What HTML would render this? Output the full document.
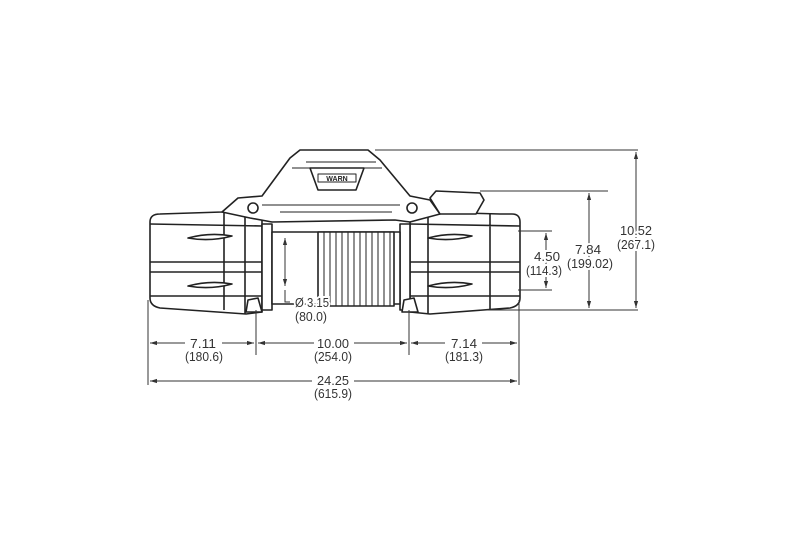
<!DOCTYPE html>
<html><head><style>body{margin:0;background:#fff}svg{display:block}text{font-family:"Liberation Sans Narrow","Liberation Sans",sans-serif;font-size:13px;fill:#333;text-anchor:middle;stroke:#fff;stroke-width:4px;paint-order:stroke;}</style></head><body>
<svg width="800" height="540" viewBox="0 0 800 540" xmlns="http://www.w3.org/2000/svg">
<defs><marker id="a" viewBox="0 0 10 10" refX="10" refY="5" markerWidth="7" markerHeight="7" orient="auto-start-reverse"><path d="M0,2L10,5L0,8z" fill="#333"/></marker></defs>
<g stroke="#222" stroke-width="1.6" fill="#fff" stroke-linejoin="round">
<path d="M150,222 Q150,214 160,214 L222,212 L246,210 L262,216 L262,312 L246,314 L160,308 Q150,306 150,298 Z"/>
<path d="M150,262 L262,262 M150,272 L262,272 M245,210 L245,314 M224,212 L224,310 M150,224 L262,226 M150,296 L262,296" fill="none"/>
<path d="M188,238 Q210,232 232,236 Q210,242 188,238Z M188,286 Q210,280 232,284 Q210,290 188,286Z"/>
<path d="M410,216 L428,212 L500,214 L512,214 Q520,214 520,222 L520,298 Q520,306 510,308 L430,314 L410,312 Z"/>
<path d="M410,262 L520,262 M410,272 L520,272 M428,212 L428,314 M490,214 L490,310 M410,224 L520,226 M410,296 L520,296" fill="none"/>
<path d="M428,238 Q450,232 472,236 Q450,242 428,238Z M428,286 Q450,280 472,284 Q450,290 428,286Z"/>
<rect x="262" y="224" width="10" height="86"/><rect x="400" y="224" width="10" height="86"/>
<rect x="272" y="232" width="128" height="72"/>
<rect x="318" y="232" width="76" height="74"/>
<path d="M324,232V306M330,232V306M336,232V306M342,232V306M348,232V306M354,232V306M360,232V306M366,232V306M372,232V306M378,232V306M384,232V306M390,232V306" fill="none" stroke-width="1"/>
<path d="M222,212 L238,198 L262,196 L290,158 L300,150 L368,150 L380,160 L410,196 L430,200 L440,214 L410,222 L395,220 L272,222 L250,218 Z"/>
<path d="M262,205 L400,205 M280,212 L392,212 M292,168 L382,168 M306,162 L376,162" fill="none" stroke-width="1"/>
<path d="M310,168 L364,168 L356,190 L318,190 Z"/>
<rect x="318" y="174" width="38" height="8" stroke-width="1"/>
<circle cx="253" cy="208" r="5"/><circle cx="412" cy="208" r="5"/>
<path d="M430,198 L436,191 L480,193 L484,200 L476,214 L440,214 Z"/>
<path d="M248,300 L258,298 L262,312 L246,312Z M404,300 L414,298 L418,312 L402,312Z"/>
</g>
<text x="337" y="181" style="font-size:7px;font-weight:bold;fill:#222;stroke:none">WARN</text>
<g stroke="#333" stroke-width="1" fill="none">
<line x1="375" y1="150" x2="638" y2="150"/><line x1="480" y1="191" x2="608" y2="191"/>
<line x1="518" y1="231" x2="552" y2="231"/><line x1="518" y1="290" x2="552" y2="290"/>
<line x1="480" y1="310" x2="638" y2="310"/>
<line x1="636" y1="152" x2="636" y2="308" marker-start="url(#a)" marker-end="url(#a)"/>
<line x1="589" y1="193" x2="589" y2="308" marker-start="url(#a)" marker-end="url(#a)"/>
<line x1="546" y1="233" x2="546" y2="288" marker-start="url(#a)" marker-end="url(#a)"/>
<line x1="285" y1="238" x2="285" y2="286" marker-start="url(#a)" marker-end="url(#a)"/>
<path d="M285,290 L285,302 L290,302"/>
<line x1="148" y1="300" x2="148" y2="385"/><line x1="256" y1="310" x2="256" y2="355"/>
<line x1="409" y1="310" x2="409" y2="355"/><line x1="519" y1="300" x2="519" y2="385"/>
<line x1="150" y1="343" x2="185" y2="343" marker-start="url(#a)"/><line x1="222" y1="343" x2="254" y2="343" marker-end="url(#a)"/>
<line x1="258" y1="343" x2="314" y2="343" marker-start="url(#a)"/><line x1="354" y1="343" x2="407" y2="343" marker-end="url(#a)"/>
<line x1="411" y1="343" x2="445" y2="343" marker-start="url(#a)"/><line x1="482" y1="343" x2="517" y2="343" marker-end="url(#a)"/>
<line x1="150" y1="381" x2="312" y2="381" marker-start="url(#a)"/><line x1="354" y1="381" x2="517" y2="381" marker-end="url(#a)"/>
</g>
<g lengthAdjust="spacingAndGlyphs">
<text x="203" y="348" textLength="26" lengthAdjust="spacingAndGlyphs">7.11</text><text x="204" y="361" textLength="38" lengthAdjust="spacingAndGlyphs">(180.6)</text>
<text x="333" y="348" textLength="32" lengthAdjust="spacingAndGlyphs">10.00</text><text x="333" y="361" textLength="38" lengthAdjust="spacingAndGlyphs">(254.0)</text>
<text x="464" y="348" textLength="26" lengthAdjust="spacingAndGlyphs">7.14</text><text x="464" y="361" textLength="38" lengthAdjust="spacingAndGlyphs">(181.3)</text>
<text x="333" y="385" textLength="32" lengthAdjust="spacingAndGlyphs">24.25</text><text x="333" y="398" textLength="38" lengthAdjust="spacingAndGlyphs">(615.9)</text>
<text x="312" y="307" textLength="34" lengthAdjust="spacingAndGlyphs">Ø 3.15</text><text x="311" y="321" textLength="32" lengthAdjust="spacingAndGlyphs">(80.0)</text>
<text x="547" y="261" textLength="26" lengthAdjust="spacingAndGlyphs">4.50</text><text x="544" y="275" textLength="36" lengthAdjust="spacingAndGlyphs">(114.3)</text>
<text x="588" y="254" textLength="26" lengthAdjust="spacingAndGlyphs">7.84</text><text x="590" y="268" textLength="46" lengthAdjust="spacingAndGlyphs">(199.02)</text>
<text x="636" y="235" textLength="32" lengthAdjust="spacingAndGlyphs">10.52</text><text x="636" y="249" textLength="38" lengthAdjust="spacingAndGlyphs">(267.1)</text>
</g>
</svg></body></html>
